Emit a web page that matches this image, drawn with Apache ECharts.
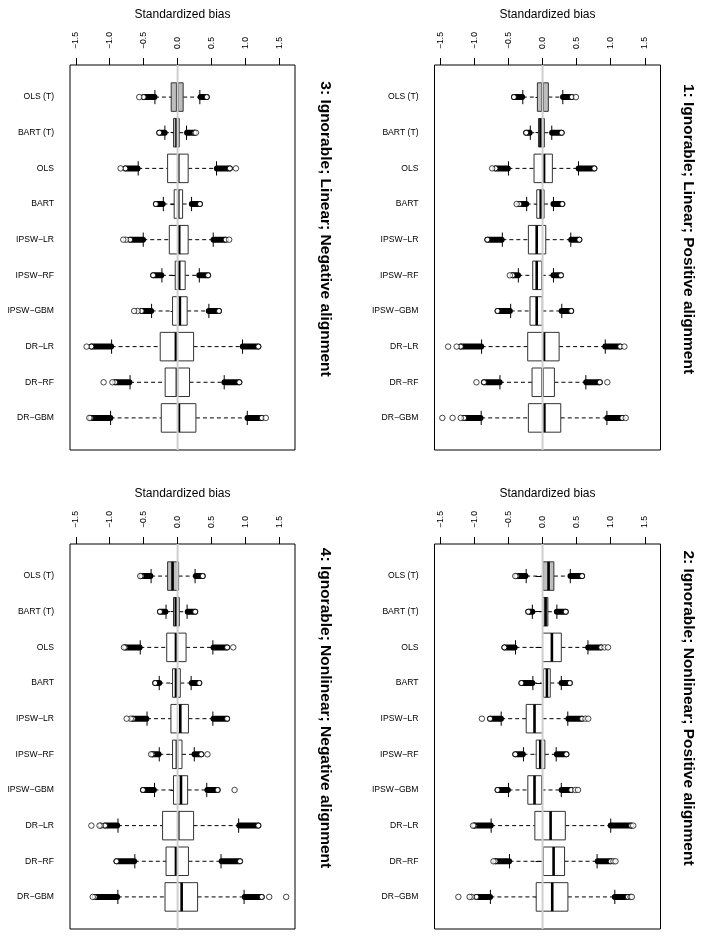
<!DOCTYPE html>
<html><head><meta charset="utf-8">
<script src="https://cdn.jsdelivr.net/npm/echarts@6/dist/echarts.min.js"></script>
<style>html,body{margin:0;padding:0;background:#fff}#c{width:704px;height:938px}</style>
</head><body><div id="c"></div>
<script>
// ---------------- data ----------------
const methods = ['OLS (T)','BART (T)','OLS','BART','IPSW\u2212LR','IPSW\u2212RF','IPSW\u2212GBM','DR\u2212LR','DR\u2212RF','DR\u2212GBM'];
const tickValues = [-1.5,-1.0,-0.5,0.0,0.5,1.0,1.5];
const axisTitle = 'Standardized bias';
const panelTitles = [
  '1: Ignorable; Linear; Positive alignment',
  '2: Ignorable; Nonlinear; Positive alignment',
  '3: Ignorable; Linear; Negative alignment',
  '4: Ignorable; Nonlinear; Negative alignment'
];

// box statistics per method: [lower whisker, Q1, median, Q3, upper whisker]
const stats1 = [
  [-0.29,-0.076,0.0,0.085,0.297],
  [-0.18,-0.06,-0.03,0.026,0.135],
  [-0.50,-0.125,0.022,0.144,0.527],
  [-0.233,-0.085,-0.027,0.022,0.16],
  [-0.59,-0.208,-0.086,0.047,0.414],
  [-0.355,-0.144,-0.086,-0.012,0.16],
  [-0.468,-0.184,-0.086,-0.003,0.282],
  [-0.894,-0.218,0.022,0.243,0.92],
  [-0.625,-0.154,0.0,0.174,0.635],
  [-0.90,-0.208,0.027,0.267,0.944]
];
const stats2 = [
  [-0.24,0.004,0.088,0.166,0.407],
  [-0.15,0.0,0.044,0.078,0.21],
  [-0.397,0.0,0.137,0.275,0.666],
  [-0.142,0.015,0.064,0.113,0.275],
  [-0.607,-0.24,-0.118,0.0,0.37],
  [-0.28,-0.093,-0.034,0.034,0.2],
  [-0.5,-0.216,-0.118,-0.015,0.275],
  [-0.754,-0.113,0.118,0.334,1.0],
  [-0.485,0.01,0.162,0.323,0.8],
  [-0.765,-0.093,0.142,0.372,1.06]
];
const stats3 = [
  [-0.334,-0.094,-0.005,0.082,0.328],
  [-0.187,-0.059,-0.015,0.024,0.132],
  [-0.58,-0.147,0.01,0.156,0.574],
  [-0.21,-0.05,0.01,0.074,0.206],
  [-0.506,-0.122,0.024,0.156,0.525],
  [-0.231,-0.035,0.024,0.112,0.32],
  [-0.383,-0.074,0.034,0.141,0.461],
  [-0.972,-0.256,-0.025,0.236,0.957],
  [-0.70,-0.183,-0.01,0.176,0.687],
  [-0.987,-0.24,0.02,0.27,1.027]
];
const stats4 = [
  [-0.39,-0.147,-0.074,0.015,0.258],
  [-0.17,-0.06,-0.024,0.025,0.14],
  [-0.55,-0.16,-0.024,0.125,0.52],
  [-0.27,-0.074,-0.024,0.04,0.2],
  [-0.45,-0.098,0.04,0.16,0.52],
  [-0.27,-0.074,-0.01,0.065,0.246],
  [-0.34,-0.06,0.05,0.148,0.43],
  [-0.878,-0.221,0.01,0.236,0.9],
  [-0.63,-0.17,-0.024,0.16,0.64],
  [-0.88,-0.185,0.06,0.295,0.98]
];

// dense (overlapping) outlier runs per method: [far end, near end] below and above
const lowRuns1 = [[-0.42,-0.30],[-0.24,-0.19],[-0.69,-0.51],[-0.34,-0.24],[-0.81,-0.60],[-0.44,-0.36],[-0.66,-0.48],[-1.20,-0.90],[-0.86,-0.63],[-1.15,-0.91]];
const highRuns1 = [[0.43,0.30],[0.28,0.14],[0.76,0.53],[0.29,0.16],[0.54,0.42],[0.27,0.16],[0.42,0.28],[1.14,0.92],[0.84,0.64],[1.17,0.95]];
const lowRuns2 = [[-0.38,-0.25],[-0.21,-0.15],[-0.56,-0.41],[-0.31,-0.15],[-0.77,-0.61],[-0.40,-0.29],[-0.66,-0.51],[-1.00,-0.76],[-0.69,-0.49],[-0.97,-0.77]];
const highRuns2 = [[0.58,0.41],[0.34,0.21],[0.86,0.67],[0.40,0.28],[0.58,0.38],[0.35,0.21],[0.42,0.28],[1.30,1.00],[1.00,0.81],[1.25,1.06]];
const lowRuns3 = [[-0.50,-0.34],[-0.27,-0.19],[-0.77,-0.59],[-0.32,-0.22],[-0.70,-0.51],[-0.36,-0.24],[-0.53,-0.39],[-1.27,-0.98],[-0.92,-0.71],[-1.28,-0.99]];
const highRuns3 = [[0.43,0.34],[0.25,0.14],[0.77,0.58],[0.33,0.21],[0.71,0.53],[0.45,0.32],[0.61,0.46],[1.19,0.96],[0.91,0.69],[1.24,1.03]];
const lowRuns4 = [[-0.53,-0.40],[-0.26,-0.18],[-0.77,-0.56],[-0.33,-0.27],[-0.66,-0.46],[-0.37,-0.28],[-0.51,-0.35],[-1.07,-0.89],[-0.90,-0.64],[-1.22,-0.89]];
const highRuns4 = [[0.37,0.27],[0.26,0.15],[0.73,0.53],[0.32,0.21],[0.73,0.53],[0.35,0.25],[0.59,0.44],[1.19,0.91],[0.92,0.65],[1.24,0.99]];

// isolated outliers: [value, method number]
const lone1 = [[-0.74,3],[-0.38,4],[-0.48,6],[-1.26,8],[-1.385,8],[-0.97,9],[-1.20,10],[-1.32,10],[-1.47,10],[0.49,1],[1.20,8],[0.95,9],[1.22,10]];
const lone2 = [[-0.40,1],[-0.89,5],[-1.02,8],[-0.72,9],[-1.04,10],[-1.07,10],[-1.235,10],[0.91,3],[0.96,3],[0.63,5],[0.67,5],[0.48,7],[0.52,7],[1.33,8],[1.04,9],[1.07,9],[1.29,10],[1.31,10]];
const lone3 = [[-0.565,1],[-0.84,3],[-0.76,5],[-0.80,5],[-0.59,7],[-0.64,7],[-1.34,8],[-0.96,9],[-1.09,9],[-1.30,10],[0.27,2],[0.86,3],[0.76,5],[1.30,10]];
const lone4 = [[-0.55,1],[-0.79,3],[-0.69,5],[-0.75,5],[-0.39,6],[-1.13,8],[-1.15,8],[-1.27,8],[-1.25,10],[0.82,3],[0.44,6],[0.84,7],[1.35,10],[1.60,10]];

// ---------------- layout / style ----------------
const FONT = '"Liberation Sans", Arial, Helvetica, sans-serif';
const X_MIN = -1.585, X_MAX = 1.73;
const Y_MIN = 0.1, Y_MAX = 10.9;
const positions = methods.map((m, i) => i + 1);
const panels = [
  { title: panelTitles[0], stats: stats1, low: lowRuns1, high: highRuns1, lone: lone1, grid: {left: 434.5, top: 65, width: 226, height: 385}, tx: 688, ty: 229 },
  { title: panelTitles[1], stats: stats2, low: lowRuns2, high: highRuns2, lone: lone2, grid: {left: 434.5, top: 544, width: 226, height: 385}, tx: 688, ty: 708 },
  { title: panelTitles[2], stats: stats3, low: lowRuns3, high: highRuns3, lone: lone3, grid: {left: 70, top: 65, width: 225, height: 385}, tx: 325, ty: 229 },
  { title: panelTitles[3], stats: stats4, low: lowRuns4, high: highRuns4, lone: lone4, grid: {left: 70, top: 544, width: 225, height: 385}, tx: 325, ty: 708 }
];

const fmtTick = v => v.toFixed(1).replace('-', '\u2212');

function renderBox(params, api) {
  const idx = api.value(0);
  const lw = api.value(1), q1 = api.value(2), md = api.value(3), q3 = api.value(4), uw = api.value(5);
  const c = (x) => api.coord([x, idx]);
  const yc = c(md)[1];
  const hh = api.size([0, 0.4])[1];
  const sh = hh / 2;
  const xlw = c(lw)[0], xq1 = c(q1)[0], xmd = c(md)[0], xq3 = c(q3)[0], xuw = c(uw)[0];
  const fill = idx <= 2 ? '#bebebe' : '#ffffff';
  const dash = { stroke: '#000', lineWidth: 1, lineDash: [4, 3] };
  return { type: 'group', children: [
    { type: 'line', shape: {x1: xlw, y1: yc, x2: xq1, y2: yc}, style: dash },
    { type: 'line', shape: {x1: xq3, y1: yc, x2: xuw, y2: yc}, style: dash },
    { type: 'line', shape: {x1: xlw, y1: yc - sh, x2: xlw, y2: yc + sh}, style: {stroke: '#000', lineWidth: 1} },
    { type: 'line', shape: {x1: xuw, y1: yc - sh, x2: xuw, y2: yc + sh}, style: {stroke: '#000', lineWidth: 1} },
    { type: 'rect', shape: {x: xq1, y: yc - hh, width: xq3 - xq1, height: 2 * hh}, style: {fill: fill, stroke: '#333', lineWidth: 1} },
    { type: 'line', shape: {x1: xmd, y1: yc - hh, x2: xmd, y2: yc + hh}, style: {stroke: '#000', lineWidth: 2.6} }
  ]};
}

function renderRun(params, api) {
  const idx = api.value(0);
  const far = api.coord([api.value(1), idx]);
  const near = api.coord([api.value(2), idx]);
  const r = 3;
  const x0 = Math.min(far[0], near[0]), x1 = Math.max(far[0], near[0]);
  return { type: 'group', children: [
    { type: 'rect', shape: {x: x0 - r, y: far[1] - r, width: x1 - x0 + 2 * r, height: 2 * r, r: r}, style: {fill: '#000'} },
    { type: 'circle', shape: {cx: far[0], cy: far[1], r: 2.5}, style: {fill: '#fff', stroke: '#000', lineWidth: 0.9} }
  ]};
}

function renderZero(params, api) {
  const p1 = api.coord([api.value(0), api.value(1)]);
  const p2 = api.coord([api.value(0), api.value(2)]);
  return { type: 'line', shape: {x1: p1[0], y1: p1[1], x2: p2[0], y2: p2[1]}, style: {stroke: '#cfcfcf', lineWidth: 2} };
}

const grids = [], xAxes = [], yAxes = [], series = [], graphics = [];
panels.forEach((p, k) => {
  grids.push(Object.assign({ show: true, borderColor: '#000', borderWidth: 1, backgroundColor: 'transparent', containLabel: false }, p.grid));
  xAxes.push({
    gridIndex: k, type: 'value', position: 'top', min: X_MIN, max: X_MAX,
    axisLine: {show: false}, splitLine: {show: false},
    axisTick: {show: true, length: 7, customValues: tickValues, lineStyle: {color: '#000', width: 1}},
    axisLabel: {customValues: tickValues, rotate: -90, margin: 16, fontSize: 8.6, color: '#000', fontFamily: FONT, formatter: fmtTick},
    name: axisTitle, nameLocation: 'middle', nameGap: 44,
    nameTextStyle: {fontSize: 12, color: '#000', fontFamily: FONT}
  });
  yAxes.push({
    gridIndex: k, type: 'value', inverse: true, min: Y_MIN, max: Y_MAX,
    axisLine: {show: false}, splitLine: {show: false},
    axisTick: {show: true, length: 7, customValues: positions, lineStyle: {color: '#000', width: 1}},
    axisLabel: {customValues: positions, margin: 16, fontSize: 8.6, color: '#000', fontFamily: FONT, formatter: v => methods[Math.round(v) - 1]}
  });
  series.push({
    type: 'custom', xAxisIndex: k, yAxisIndex: k, renderItem: renderBox, z: 2, silent: true,
    encode: {x: [1, 2, 3, 4, 5], y: 0},
    data: p.stats.map((s, i) => [positions[i]].concat(s))
  });
  series.push({
    type: 'custom', xAxisIndex: k, yAxisIndex: k, renderItem: renderRun, z: 3, silent: true,
    encode: {x: [1, 2], y: 0},
    data: p.low.map((r, i) => [positions[i], r[0], r[1]]).concat(p.high.map((r, i) => [positions[i], r[0], r[1]]))
  });
  series.push({
    type: 'scatter', xAxisIndex: k, yAxisIndex: k, z: 4, silent: true,
    symbol: 'circle', symbolSize: 5.5,
    itemStyle: {color: '#fff', borderColor: '#000', borderWidth: 0.9},
    data: p.lone
  });
  series.push({
    type: 'custom', xAxisIndex: k, yAxisIndex: k, renderItem: renderZero, z: 10, silent: true,
    encode: {x: 0, y: [1, 2]},
    data: [[0, Y_MIN, Y_MAX]]
  });
  graphics.push({
    type: 'text', x: p.tx, y: p.ty, rotation: -Math.PI / 2,
    style: {text: p.title, fontSize: 15.5, fontWeight: 'bold', fontFamily: FONT, fill: '#000', align: 'center', verticalAlign: 'middle'}
  });
});

const chart = echarts.init(document.getElementById('c'), null, {renderer: 'canvas'});
chart.setOption({
  animation: false,
  backgroundColor: '#fff',
  grid: grids, xAxis: xAxes, yAxis: yAxes, series: series, graphic: graphics
});
</script></body></html>
